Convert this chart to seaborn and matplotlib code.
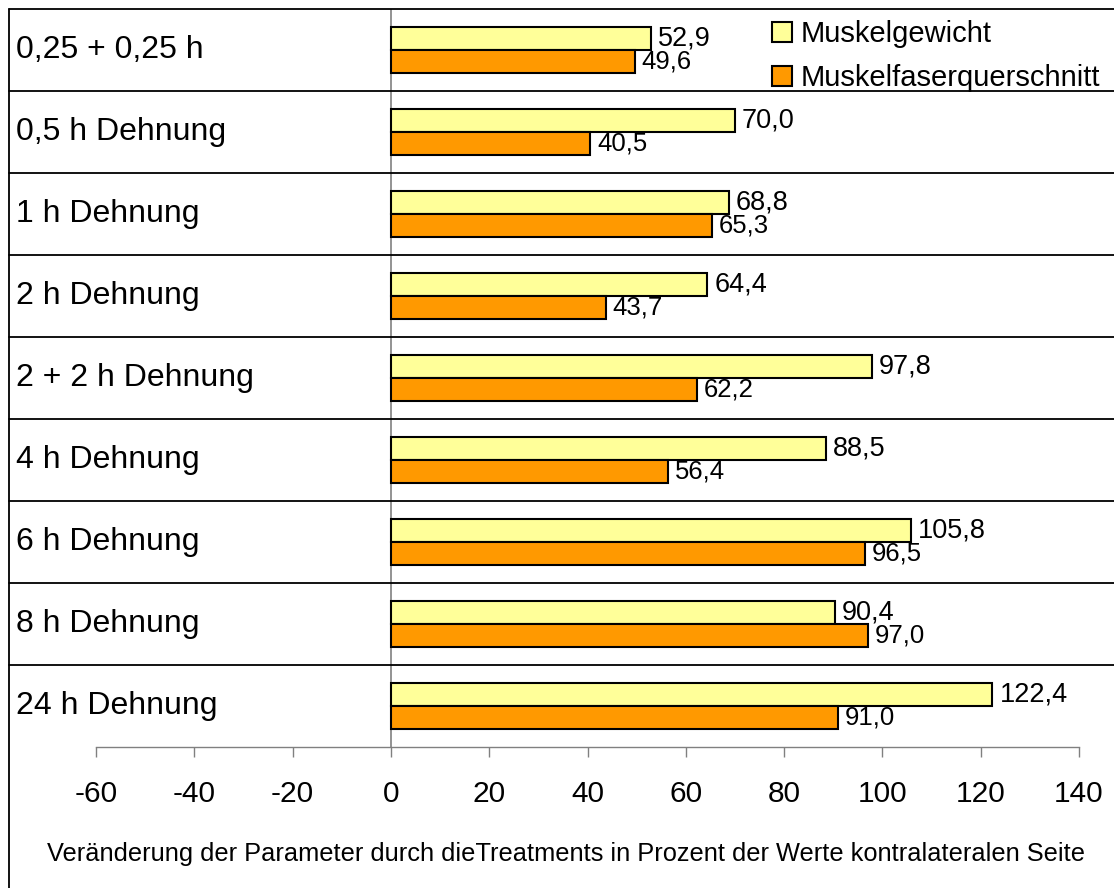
import numpy as np
import pandas as pd
import seaborn as sns
import matplotlib
matplotlib.use("Agg")
import matplotlib.pyplot as plt
from matplotlib.patches import Patch
from matplotlib.transforms import blended_transform_factory

categories = ["0,25 + 0,25 h", "0,5 h Dehnung", "1 h Dehnung", "2 h Dehnung",
              "2 + 2 h Dehnung", "4 h Dehnung", "6 h Dehnung", "8 h Dehnung",
              "24 h Dehnung"]
series_names = ["Muskelgewicht", "Muskelfaserquerschnitt"]
muskelgewicht = [52.9, 70.0, 68.8, 64.4, 97.8, 88.5, 105.8, 90.4, 122.4]
faserquerschnitt = [49.6, 40.5, 65.3, 43.7, 62.2, 56.4, 96.5, 97.0, 91.0]
x_ticks = [-60, -40, -20, 0, 20, 40, 60, 80, 100, 120, 140]
x_label = "Veränderung der Parameter durch dieTreatments in Prozent der Werte kontralateralen Seite"
colors = ["#FFFF99", "#FF9900"]

sns.set_theme(style="white")
plt.rcParams["font.family"] = ["Liberation Sans", "DejaVu Sans"]
plt.rcParams["axes.unicode_minus"] = False
plt.rcParams["text.color"] = "black"
plt.rcParams["xtick.color"] = "black"
plt.rcParams["xtick.labelcolor"] = "black"

df = pd.DataFrame({
    "Behandlung": categories * 2,
    "Serie": [series_names[0]] * len(categories) + [series_names[1]] * len(categories),
    "Wert": muskelgewicht + faserquerschnitt,
})

W, H = 1114, 888
fig = plt.figure(figsize=(W / 100, H / 100), dpi=100)
ax = fig.add_axes([96 / W, (H - 747) / H, (1079 - 96) / W, (747 - 9) / H])

sns.barplot(data=df, x="Wert", y="Behandlung", hue="Serie", order=categories,
            hue_order=series_names, palette=colors, orient="h", width=0.56,
            edgecolor="black", linewidth=1.5, legend=False, ax=ax, saturation=1)

ax.set_xlim(-60, 140)
ax.set_ylim(len(categories) - 0.5, -0.5)
ax.set_xticks(x_ticks)
ax.set_xticklabels([str(t) for t in x_ticks])
ax.tick_params(axis="x", direction="out", length=7, width=1, color="#808080",
               labelsize=21.5, pad=16.5, bottom=True, labelcolor="black")
ax.tick_params(axis="y", left=False, labelleft=False)
ax.set_xlabel("")
ax.set_ylabel("")
for side in ["top", "right", "left"]:
    ax.spines[side].set_visible(False)
ax.spines["bottom"].set_color("#808080")
ax.spines["bottom"].set_linewidth(1)

# zero line
ax.axvline(0, color="#808080", lw=1.2, zorder=0)

# row separators spanning the label column
trans = blended_transform_factory(fig.transFigure, ax.transData)
for b in np.arange(-0.5, len(categories) - 1, 1.0):
    ax.plot([9 / W, 1.0], [b, b], transform=trans, color="black", lw=1.3,
            clip_on=False, zorder=1)
# left frame line
fig.add_artist(plt.Line2D([9 / W, 9 / W], [0, 1 - 9 / H], color="black", lw=1.3))

# category labels
for i, c in enumerate(categories):
    ax.text(16 / W, i, c, transform=trans, ha="left", va="center", fontsize=23,
            color="black")

# value labels
for cont, vals, fs in zip(ax.containers, [muskelgewicht, faserquerschnitt], [19.5, 18.5]):
    ax.bar_label(cont, labels=[f"{v:.1f}".replace(".", ",") for v in vals],
                 padding=5, fontsize=fs, color="black")

handles = [Patch(facecolor=colors[k], edgecolor="black", linewidth=1.5) for k in range(2)]
fig.legend(handles, series_names, loc="upper left",
           bbox_to_anchor=(772 / W, 1 - 20 / H), bbox_transform=fig.transFigure,
           frameon=False, fontsize=21, handlelength=0.68, handleheight=0.68,
           handletextpad=0.3, labelspacing=0.55, borderpad=0, borderaxespad=0,
           labelcolor="black")

fig.text(566 / W, 1 - 854 / H, x_label, ha="center", va="center", fontsize=18.3,
         color="black")

fig.savefig("out.png", dpi=100)
